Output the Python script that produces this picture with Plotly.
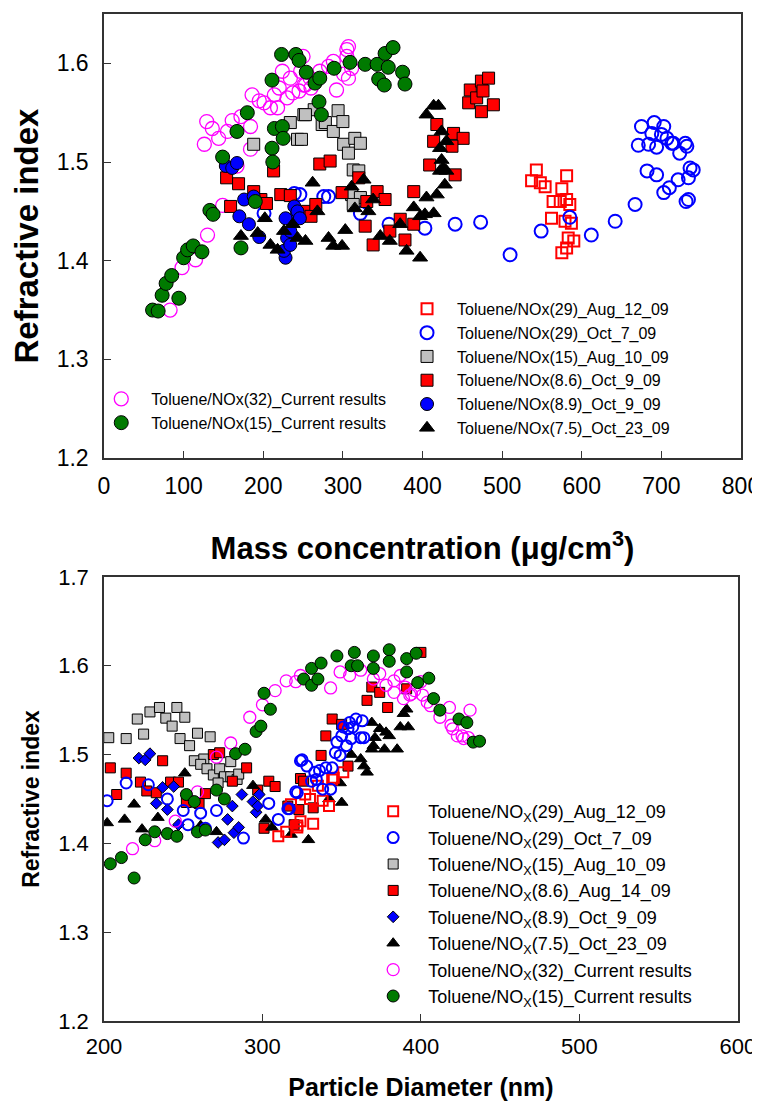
import plotly.graph_objects as go

# --- data: top panel (refractive index vs mass concentration) ---
t_aug12_29_x = [543, 537, 548, 554, 581, 575, 564, 573, 581, 585, 562, 579, 587, 583, 590, 575, 581]
t_aug12_29_y = [1.492, 1.481, 1.479, 1.475, 1.486, 1.473, 1.460, 1.460, 1.462, 1.457, 1.443, 1.440, 1.438,
                1.423, 1.420, 1.408, 1.413]

t_oct7_29_x = [201, 239, 246, 276, 282, 322, 358, 403, 441, 473, 510, 549, 585, 612, 642, 667, 682, 694, 703,
               710, 721, 734, 731, 734, 736, 740, 723, 730, 732, 713, 707, 703, 691, 675, 671, 684, 694, 688,
               700, 715]
t_oct7_29_y = [1.448, 1.468, 1.467, 1.465, 1.465, 1.448, 1.437, 1.433, 1.437, 1.439, 1.406, 1.430, 1.444,
               1.426, 1.440, 1.457, 1.491, 1.487, 1.469, 1.474, 1.482, 1.484, 1.460, 1.462, 1.494, 1.492,
               1.509, 1.519, 1.516, 1.519, 1.524, 1.536, 1.540, 1.536, 1.517, 1.518, 1.515, 1.529, 1.528, 1.519]

t_aug10_15_x = [188, 234, 243, 251, 264, 274, 253, 248, 278, 288, 294, 300, 301, 307, 315, 322, 313, 320,
                311, 322, 313]
t_aug10_15_y = [1.518, 1.540, 1.523, 1.548, 1.553, 1.538, 1.548, 1.523, 1.540, 1.531, 1.552, 1.541, 1.518,
                1.509, 1.524, 1.519, 1.492, 1.491, 1.467, 1.464, 1.457]

t_oct9_86_x = [154, 169, 188, 159, 197, 204, 213, 222, 234, 253, 260, 266, 271, 284, 299, 320, 343, 353, 330,
               328, 338, 372, 359, 378, 389, 389, 409, 418, 414, 439, 451, 441, 437, 460, 474, 483, 458, 468,
               474, 489, 476]
t_oct9_86_y = [1.484, 1.478, 1.470, 1.455, 1.462, 1.458, 1.491, 1.467, 1.466, 1.450, 1.445, 1.457, 1.498,
               1.501, 1.469, 1.484, 1.470, 1.462, 1.460, 1.435, 1.416, 1.442, 1.430, 1.421, 1.437, 1.470,
               1.497, 1.538, 1.521, 1.529, 1.524, 1.487, 1.516, 1.573, 1.582, 1.585, 1.560, 1.565, 1.551,
               1.558, 1.572]

t_oct9_89_x = [153, 161, 167, 176, 188, 170, 182, 195, 228, 226, 230, 234, 239, 241, 243, 228, 234, 246]
t_oct9_89_y = [1.496, 1.494, 1.499, 1.462, 1.465, 1.445, 1.437, 1.424, 1.403, 1.410, 1.423, 1.430, 1.455,
               1.445, 1.450, 1.443, 1.416, 1.443]

t_oct23_75_x = [172, 193, 202, 209, 218, 226, 237, 243, 253, 262, 268, 282, 288, 299, 303, 311, 326, 315,
                332, 338, 347, 359, 372, 380, 397, 389, 397, 403, 405, 414, 418, 428, 422, 426, 424, 422,
                430, 424, 405, 414, 420, 430]
t_oct23_75_y = [1.425, 1.428, 1.443, 1.416, 1.411, 1.430, 1.437, 1.423, 1.420, 1.479, 1.450, 1.423, 1.415,
                1.415, 1.431, 1.475, 1.482, 1.453, 1.450, 1.462, 1.425, 1.420, 1.437, 1.410, 1.403, 1.454,
                1.445, 1.447, 1.464, 1.448, 1.467, 1.477, 1.491, 1.494, 1.502, 1.514, 1.521, 1.531, 1.548,
                1.557, 1.557, 1.491]

t_cur32_x = [83, 98, 115, 130, 149, 167, 184, 126, 129, 136, 144, 155, 161, 172, 184, 186, 195, 201, 209,
             218, 214, 220, 224, 234, 237, 245, 251, 247, 260, 230, 250, 253, 259, 271, 282, 288, 292, 301,
             307, 305, 307, 305, 311]
t_cur32_y = [1.350, 1.393, 1.401, 1.426, 1.456, 1.496, 1.513, 1.518, 1.541, 1.534, 1.524, 1.531, 1.542,
             1.546, 1.536, 1.568, 1.562, 1.560, 1.555, 1.555, 1.568, 1.575, 1.592, 1.585, 1.570, 1.572,
             1.578, 1.592, 1.575, 1.565, 1.607, 1.578, 1.585, 1.592, 1.597, 1.602, 1.573, 1.589, 1.585,
             1.614, 1.617, 1.607, 1.595]

t_cur15_x = [61, 68, 73, 78, 85, 94, 100, 105, 112, 123, 133, 137, 149, 167, 172, 180, 190, 211, 212, 214,
             224, 225, 211, 223, 241, 245, 254, 265, 271, 270, 273, 289, 309, 328, 343, 353, 363, 357, 345,
             352, 375, 378]
t_cur15_y = [1.350, 1.349, 1.365, 1.377, 1.385, 1.362, 1.403, 1.411, 1.415, 1.409, 1.451, 1.447, 1.505,
             1.531, 1.413, 1.550, 1.460, 1.514, 1.500, 1.534, 1.536, 1.524, 1.583, 1.609, 1.609, 1.603,
             1.591, 1.580, 1.585, 1.561, 1.548, 1.595, 1.601, 1.599, 1.599, 1.610, 1.616, 1.596, 1.584,
             1.578, 1.591, 1.579]

# --- data: bottom panel (refractive index vs particle diameter) ---
b_aug12_29_x = [310, 315, 318, 322, 322, 324, 332, 342, 327, 335, 344, 351, 330, 338, 345]
b_aug12_29_y = [1.408, 1.413, 1.444, 1.420, 1.418, 1.425, 1.422, 1.442, 1.455, 1.465, 1.472, 1.480, 1.450,
                1.448, 1.474]

b_oct7_29_x = [202, 214, 228, 240, 250, 253, 261, 264, 271, 288, 304, 310, 316, 322, 324, 317, 321, 325, 328,
               331, 333, 336, 338, 340, 343, 344, 346, 349, 347, 350, 351, 354, 355, 357, 359, 362, 364, 356,
               353, 334, 363]
b_oct7_29_y = [1.448, 1.468, 1.466, 1.450, 1.437, 1.421, 1.434, 1.417, 1.437, 1.406, 1.445, 1.427, 1.439,
               1.457, 1.493, 1.439, 1.458, 1.494, 1.487, 1.470, 1.480, 1.482, 1.461, 1.485, 1.461, 1.485,
               1.502, 1.499, 1.514, 1.521, 1.531, 1.529, 1.536, 1.531, 1.540, 1.519, 1.519, 1.518, 1.510,
               1.472, 1.538]

b_aug10_15_x = [203, 214, 221, 225, 229, 235, 239, 243, 246, 251, 248, 254, 259, 267, 257, 263, 261, 265,
                269, 273, 276, 280, 280, 284, 285, 272]
b_aug10_15_y = [1.519, 1.518, 1.540, 1.523, 1.548, 1.553, 1.541, 1.532, 1.553, 1.542, 1.518, 1.510, 1.524,
                1.520, 1.493, 1.495, 1.489, 1.484, 1.477, 1.484, 1.475, 1.492, 1.475, 1.472, 1.478, 1.468]

b_aug14_86_x = [204, 208, 214, 223, 227, 233, 237, 242, 247, 252, 260, 264, 269, 273, 281, 290, 297, 304,
                308, 301, 316, 320, 323, 324, 326, 337, 340, 344, 350, 354, 366, 369, 374, 379, 391, 400, 332]
b_aug14_86_y = [1.485, 1.455, 1.479, 1.469, 1.459, 1.457, 1.493, 1.469, 1.469, 1.446, 1.445, 1.456, 1.500,
                1.502, 1.470, 1.485, 1.460, 1.470, 1.464, 1.417, 1.442, 1.421, 1.438, 1.473, 1.470, 1.499,
                1.521, 1.540, 1.534, 1.487, 1.561, 1.576, 1.570, 1.553, 1.574, 1.615, 1.440]

b_oct9_89_x = [222, 226, 229, 233, 237, 240, 244, 247, 272, 276, 278, 281, 282, 285, 287, 294, 296, 297, 298]
b_oct9_89_y = [1.496, 1.494, 1.501, 1.445, 1.463, 1.438, 1.464, 1.421, 1.401, 1.404, 1.427, 1.442, 1.412,
               1.418, 1.455, 1.447, 1.435, 1.442, 1.455]

b_oct23_75_x = [202, 213, 219, 224, 234, 251, 261, 271, 294, 302, 306, 318, 329, 342, 350, 349, 356, 362,
                366, 364, 369, 371, 374, 378, 370, 377, 385, 380, 387, 392, 389, 391, 369]
b_oct23_75_y = [1.423, 1.427, 1.444, 1.416, 1.429, 1.479, 1.420, 1.413, 1.465, 1.427, 1.418, 1.410, 1.404,
                1.450, 1.446, 1.468, 1.500, 1.495, 1.480, 1.487, 1.506, 1.519, 1.529, 1.525, 1.510, 1.506,
                1.506, 1.521, 1.531, 1.531, 1.546, 1.551, 1.536]

b_cur32_x = [218, 232, 245, 259, 271, 280, 292, 300, 308, 315, 321, 324, 343, 349, 355, 362, 370, 374, 378,
             383, 387, 390, 393, 396, 400, 401, 406, 412, 418, 420, 423, 427, 389, 383, 394, 404, 419, 426,
             431, 430]
b_cur32_y = [1.394, 1.403, 1.425, 1.458, 1.497, 1.513, 1.542, 1.556, 1.572, 1.583, 1.582, 1.589, 1.575,
             1.593, 1.589, 1.595, 1.585, 1.591, 1.578, 1.583, 1.589, 1.576, 1.567, 1.572, 1.582, 1.567,
             1.555, 1.542, 1.553, 1.529, 1.521, 1.518, 1.563, 1.570, 1.568, 1.559, 1.533, 1.521, 1.550, 1.519]

b_cur15_x = [204, 211, 219, 226, 232, 240, 246, 252, 257, 259, 264, 271, 276, 283, 289, 296, 299, 301, 305,
             326, 331, 331, 335, 337, 347, 356, 358, 360, 370, 370, 380, 380, 391, 397, 391, 398, 405, 408,
             412, 424, 429, 433, 437]
b_cur15_y = [1.377, 1.384, 1.361, 1.404, 1.413, 1.411, 1.408, 1.455, 1.447, 1.413, 1.415, 1.460, 1.450,
             1.501, 1.506, 1.526, 1.532, 1.569, 1.551, 1.585, 1.597, 1.578, 1.585, 1.603, 1.611, 1.600,
             1.615, 1.600, 1.611, 1.597, 1.618, 1.605, 1.608, 1.614, 1.593, 1.581, 1.586, 1.563, 1.550,
             1.540, 1.536, 1.514, 1.515]

FONT = "Liberation Sans, Arial, sans-serif"
GREEN = "#007a00"
GRAY = "#c0c0c0"

fig = go.Figure()


def add(x, y, name, style, xa, ya, legend, rank, size):
    marker = dict(size=size)
    if style == "open_sq_red":
        marker.update(symbol="square-open", color="red", line=dict(width=2))
    elif style == "open_ci_blue":
        marker.update(symbol="circle-open", color="blue", line=dict(width=2))
    elif style == "sq_gray":
        marker.update(symbol="square", color=GRAY, line=dict(color="black", width=1))
    elif style == "sq_red":
        marker.update(symbol="square", color="red", line=dict(color="black", width=1))
    elif style == "ci_blue":
        marker.update(symbol="circle", color="blue", line=dict(color="black", width=1))
    elif style == "di_blue":
        marker.update(symbol="diamond", color="blue", line=dict(color="black", width=1))
    elif style == "tri":
        marker.update(symbol="triangle-up", color="black", line=dict(color="black", width=1))
    elif style == "open_ci_mag":
        marker.update(symbol="circle-open", color="magenta", line=dict(width=1.3))
    elif style == "ci_green":
        marker.update(symbol="circle", color=GREEN, line=dict(color="black", width=1))
    fig.add_trace(go.Scatter(x=x, y=y, mode="markers", name=name, marker=marker,
                             xaxis=xa, yaxis=ya, legend=legend, legendrank=rank))


# top panel (draw order chosen to match overlaps)
add(t_cur32_x, t_cur32_y, "Toluene/NOx(32)_Current results", "open_ci_mag", "x", "y", "legend2", 1, 14)
add(t_aug12_29_x, t_aug12_29_y, "Toluene/NOx(29)_Aug_12_09", "open_sq_red", "x", "y", "legend", 1, 11)
add(t_oct7_29_x, t_oct7_29_y, "Toluene/NOx(29)_Oct_7_09", "open_ci_blue", "x", "y", "legend", 2, 13)
add(t_aug10_15_x, t_aug10_15_y, "Toluene/NOx(15)_Aug_10_09", "sq_gray", "x", "y", "legend", 3, 12)
add(t_oct9_86_x, t_oct9_86_y, "Toluene/NOx(8.6)_Oct_9_09", "sq_red", "x", "y", "legend", 4, 12)
add(t_oct9_89_x, t_oct9_89_y, "Toluene/NOx(8.9)_Oct_9_09", "ci_blue", "x", "y", "legend", 5, 13)
add(t_oct23_75_x, t_oct23_75_y, "Toluene/NOx(7.5)_Oct_23_09", "tri", "x", "y", "legend", 6, 13)
add(t_cur15_x, t_cur15_y, "Toluene/NOx(15)_Current results", "ci_green", "x", "y", "legend2", 2, 14)

# bottom panel
sub = "Toluene/NO<sub>X</sub>"
add(b_aug10_15_x, b_aug10_15_y, sub + "(15)_Aug_10_09", "sq_gray", "x2", "y2", "legend3", 3, 10)
add(b_aug14_86_x, b_aug14_86_y, sub + "(8.6)_Aug_14_09", "sq_red", "x2", "y2", "legend3", 4, 10)
add(b_oct9_89_x, b_oct9_89_y, sub + "(8.9)_Oct_9_09", "di_blue", "x2", "y2", "legend3", 5, 9)
add(b_oct23_75_x, b_oct23_75_y, sub + "(7.5)_Oct_23_09", "tri", "x2", "y2", "legend3", 6, 11)
add(b_aug12_29_x, b_aug12_29_y, sub + "(29)_Aug_12_09", "open_sq_red", "x2", "y2", "legend3", 1, 10)
add(b_oct7_29_x, b_oct7_29_y, sub + "(29)_Oct_7_09", "open_ci_blue", "x2", "y2", "legend3", 2, 11)
add(b_cur32_x, b_cur32_y, sub + "(32)_Current results", "open_ci_mag", "x2", "y2", "legend3", 7, 12)
add(b_cur15_x, b_cur15_y, sub + "(15)_Current results", "ci_green", "x2", "y2", "legend3", 8, 12)

axis_common = dict(showgrid=False, zeroline=False, showline=True, linecolor="#333", linewidth=1.5,
                   mirror=True, ticks="inside", ticklen=7, tickcolor="#333", automargin=False)

legend_common = dict(bgcolor="rgba(0,0,0,0)", borderwidth=0, xanchor="left", yanchor="top",
                     traceorder="normal", itemclick=False)

# page body adds an 8px margin, so the figure is 8px smaller than the window
fig.update_layout(
    width=752, height=1097,
    margin=dict(l=96, r=19, t=6, b=84),
    plot_bgcolor="white", paper_bgcolor="white",
    font=dict(family=FONT, color="black"),
    xaxis=dict(domain=[0, 1], range=[0, 800], dtick=100, anchor="y",
               tickfont=dict(size=23), ticklabelstandoff=7, ticklabeloverflow="allow",
               title=dict(text="<b>Mass concentration (μg/cm<sup>3</sup>)</b>",
                          font=dict(size=31), standoff=39),
               **axis_common),
    yaxis=dict(domain=[0.559, 1], range=[1.2, 1.65], tickvals=[1.2, 1.3, 1.4, 1.5, 1.6],
               tickformat=".1f", anchor="x", tickfont=dict(size=23), ticklabelstandoff=9,
               title=dict(text="<b>Refractive index</b>", font=dict(size=33), standoff=9),
               **axis_common),
    xaxis2=dict(domain=[0, 0.995], range=[200, 600], dtick=100, anchor="y2",
                tickfont=dict(size=22), ticklabelstandoff=5, ticklabeloverflow="allow",
                title=dict(text="<b>Particle Diameter (nm)</b>", font=dict(size=25), standoff=20),
                **axis_common),
    yaxis2=dict(domain=[0, 0.441], range=[1.2, 1.7], dtick=0.1, tickformat=".1f", anchor="x2",
                tickfont=dict(size=22), ticklabelstandoff=9,
                title=dict(text="<b>Refractive index</b>", font=dict(size=23), standoff=12),
                **axis_common),
    legend=dict(x=0.46, y=0.724, font=dict(size=16), itemwidth=50, **legend_common),
    legend2=dict(x=-0.02, y=0.6346, font=dict(size=16), itemwidth=50, **legend_common),
    legend3=dict(x=0.399, y=0.2264, font=dict(size=18), itemwidth=60, **legend_common),
)

fig.write_html("out.html")
